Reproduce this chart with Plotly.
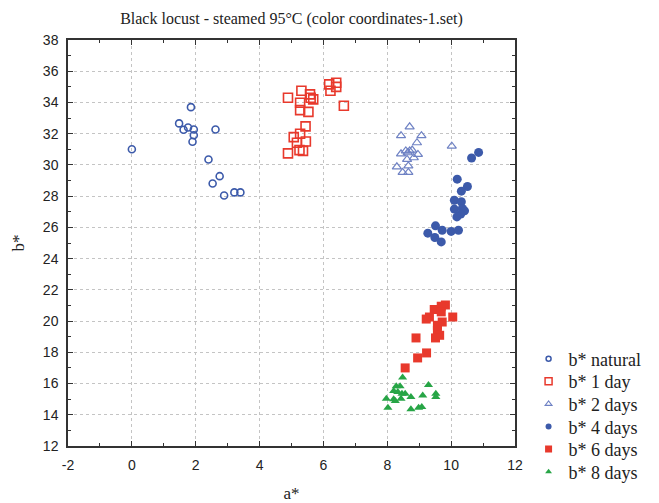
import plotly.graph_objects as go

# a* / b* colour coordinates of steamed black locust, one set per steaming time
natural_a = [0.0, 1.85, 1.48, 1.76, 1.62, 1.94, 1.94, 1.90, 2.62, 2.40, 2.75, 2.53, 2.89, 3.21, 3.40]
natural_b = [31.0, 33.7, 32.66, 32.4, 32.25, 32.27, 31.9, 31.48, 32.27, 30.35, 29.28, 28.81, 28.04, 28.24, 28.24]

day1_a = [4.89, 4.89, 5.31, 5.58, 5.60, 5.68, 5.27, 5.27, 5.53, 6.18, 6.40, 6.22, 6.40, 6.64,
          5.44, 5.27, 5.07, 5.17, 5.45, 5.25, 5.36]
day1_b = [30.74, 34.3, 34.75, 34.52, 34.3, 34.2, 33.98, 33.51, 33.4, 35.16, 35.26, 34.75, 35.0, 33.79,
          32.47, 32.0, 31.78, 31.42, 31.5, 30.95, 30.9]

day2_a = [8.70, 8.43, 9.07, 8.93, 10.02, 8.43, 8.58, 8.70, 8.78, 8.64, 8.96, 8.83, 8.62, 8.66, 8.30, 8.48, 8.66]
day2_b = [32.44, 31.87, 31.87, 31.42, 31.2, 30.71, 30.9, 30.9, 30.95, 30.78, 30.67, 30.46, 30.35, 29.94, 29.88, 29.52, 29.52]

day4_a = [10.86, 10.64, 10.19, 10.51, 10.32, 10.10, 10.32, 10.10, 10.35, 10.42, 10.30, 10.18,
          9.51, 9.27, 9.49, 9.69, 9.72, 10.0, 10.23]
day4_b = [30.8, 30.44, 29.09, 28.62, 28.32, 27.74, 27.64, 27.17, 27.21, 27.06, 26.85, 26.67,
          26.1, 25.63, 25.35, 25.07, 25.82, 25.74, 25.82]

day6_a = [9.82, 9.69, 9.47, 9.69, 9.32, 9.22, 10.05, 9.72, 9.57, 9.57, 9.64, 9.51, 8.90, 9.23, 8.95, 8.56]
day6_b = [21.03, 20.95, 20.74, 20.59, 20.26, 20.13, 20.26, 19.94, 19.73, 19.41, 19.09, 18.92, 18.92, 17.96, 17.64, 17.0]

day8_a = [8.48, 9.29, 8.28, 8.40, 8.20, 8.33, 8.46, 8.56, 9.11, 9.52, 9.52, 8.74, 7.97, 8.20, 8.43,
          8.25, 8.02, 8.74, 8.98, 9.08]
day8_b = [16.38, 15.9, 15.82, 15.82, 15.52, 15.46, 15.35, 15.35, 15.24, 15.35, 15.13, 15.13, 15.03,
          14.99, 15.03, 14.88, 14.45, 14.35, 14.45, 14.49]

x_ticks = [-2, 0, 2, 4, 6, 8, 10, 12]
x_tick_labels = ["-2", "0", "2", "4", "6", "8", "10", "12"]
y_ticks = [12, 14, 16, 18, 20, 22, 24, 26, 28, 30, 32, 34, 36, 38]

BLUE = "#3c5aaa"
LIGHT_BLUE = "#6f82c4"
RED = "#e8392c"
GREEN = "#27a546"
SERIF = "Liberation Serif, Times New Roman, serif"
TEXT = "#222222"

# name, a*, b*, plot marker, smaller legend swatch
series = [
    ("b* natural", natural_a, natural_b,
     dict(symbol="circle-open", size=7, color=BLUE, line=dict(width=1.6, color=BLUE)),
     dict(symbol="circle-open", size=5, color=BLUE, line=dict(width=1.5, color=BLUE))),
    ("b* 1 day", day1_a, day1_b,
     dict(symbol="square-open", size=9, color=RED, line=dict(width=1.6, color=RED)),
     dict(symbol="square-open", size=7, color=RED, line=dict(width=1.5, color=RED))),
    ("b* 2 days", day2_a, day2_b,
     dict(symbol="triangle-up-open", size=8, color=LIGHT_BLUE, line=dict(width=1.2, color=LIGHT_BLUE)),
     dict(symbol="triangle-up-open", size=6, color=LIGHT_BLUE, line=dict(width=1.1, color=LIGHT_BLUE))),
    ("b* 4 days", day4_a, day4_b,
     dict(symbol="circle", size=9, color=BLUE, line=dict(width=0)),
     dict(symbol="circle", size=6, color=BLUE, line=dict(width=0))),
    ("b* 6 days", day6_a, day6_b,
     dict(symbol="square", size=9, color=RED, line=dict(width=0)),
     dict(symbol="square", size=7, color=RED, line=dict(width=0))),
    ("b* 8 days", day8_a, day8_b,
     dict(symbol="triangle-up", size=8, color=GREEN, line=dict(width=0)),
     dict(symbol="triangle-up", size=6, color=GREEN, line=dict(width=0))),
]

# plot area in pixels (figure 659 x 503)
PLOT_L, PLOT_R, PLOT_T, PLOT_B = 68, 529, 40, 446
LEGEND_TEXT_X = 583
LEGEND_FIRST_Y = 359
LEGEND_STEP = 22.6

fig = go.Figure()
layout_legends = {}
for i, (name, xs, ys, marker, swatch) in enumerate(series):
    legend_id = "legend" if i == 0 else f"legend{i + 1}"
    fig.add_trace(go.Scatter(x=xs, y=ys, mode="markers", name=name, marker=marker,
                             showlegend=False, legendgroup=name))
    # one legend block per entry so the rows sit at an even pitch
    fig.add_trace(go.Scatter(x=[None], y=[None], mode="markers", name=name, marker=swatch,
                             showlegend=True, legendgroup=name, legend=legend_id))
    yc = LEGEND_FIRST_Y + i * LEGEND_STEP
    layout_legends[legend_id] = dict(
        x=(LEGEND_TEXT_X - 40 - PLOT_L) / (PLOT_R - PLOT_L), xanchor="left",
        y=(PLOT_B - yc) / (PLOT_B - PLOT_T), yanchor="middle",
        font=dict(family=SERIF, size=18, color=TEXT),
        bgcolor="rgba(0,0,0,0)", borderwidth=0,
    )

axis_common = dict(
    showline=True, linecolor="#333333", linewidth=1.5, mirror="ticks",
    ticks="inside", ticklen=5, tickcolor="#333333", tickwidth=1.2,
    showgrid=True, gridcolor="#c4c4c4", gridwidth=1, griddash="dot",
    zeroline=False, automargin=False,
    tickfont=dict(family="Liberation Sans, Arial", size=14, color=TEXT),
    ticklabelstandoff=5,
)

fig.update_xaxes(
    range=[-2, 12], tickvals=x_ticks, ticktext=x_tick_labels,
    minor=dict(dtick=1, ticks="inside", ticklen=3, tickcolor="#333333", showgrid=False),
    title=dict(text="a*", font=dict(family=SERIF, size=17, color=TEXT), standoff=26),
    **axis_common,
)
fig.update_yaxes(
    range=[12, 38], tickvals=y_ticks,
    minor=dict(dtick=1, ticks="inside", ticklen=3, tickcolor="#333333", showgrid=False),
    title=dict(text="b*", font=dict(family=SERIF, size=17, color=TEXT), standoff=14),
    **axis_common,
)

fig.update_layout(
    width=659, height=503,
    margin=dict(l=PLOT_L, r=659 - PLOT_R, t=PLOT_T, b=503 - PLOT_B),
    paper_bgcolor="white", plot_bgcolor="white",
    title=dict(
        text="Black locust - steamed 95°C (color coordinates-1.set)",
        font=dict(family=SERIF, size=16, color=TEXT),
        x=0.5, xanchor="center", xref="paper",
        y=1 - 18 / 503, yanchor="middle", yref="container",
    ),
    showlegend=True,
    **layout_legends,
)

fig.write_html("out.html")
